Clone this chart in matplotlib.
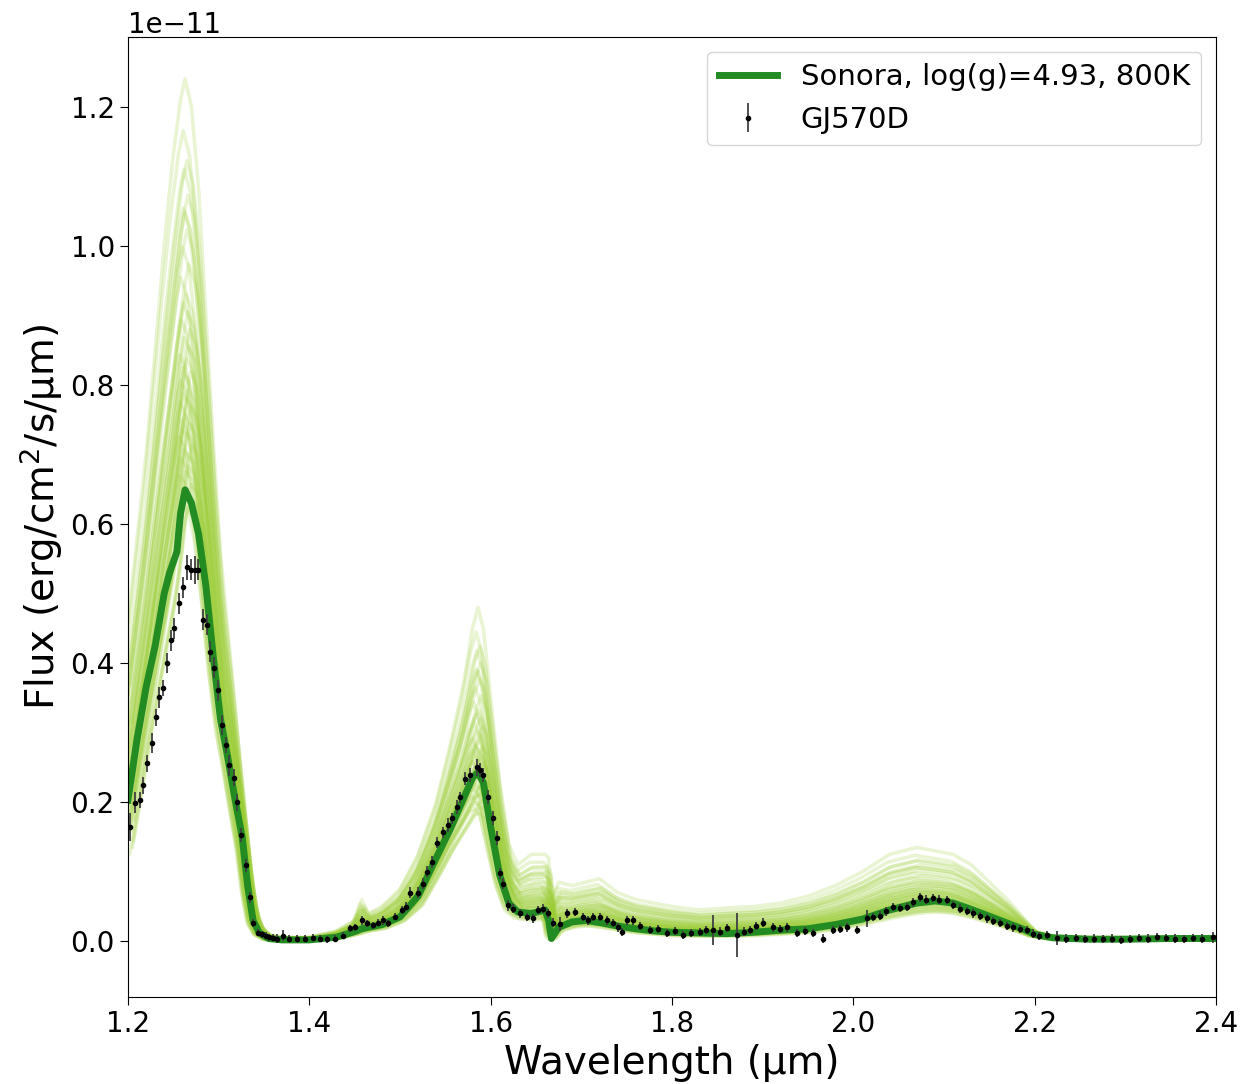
"""Sonora model fit to the GJ570D spectrum with posterior draws."""

import matplotlib

matplotlib.use('Agg')
import matplotlib.pyplot as plt
import numpy as np

# wavelength grid shared by the best-fit model and the draw envelopes (um)
model_wl = [1.200, 1.210, 1.220, 1.230, 1.240, 1.246, 1.250, 1.254, 1.258, 1.263,
            1.270, 1.278, 1.286, 1.294, 1.302, 1.310, 1.318, 1.326, 1.332, 1.338,
            1.345, 1.355, 1.370, 1.400, 1.430, 1.450, 1.458, 1.465, 1.480, 1.500,
            1.520, 1.540, 1.555, 1.570, 1.580, 1.586, 1.592, 1.600, 1.610, 1.620,
            1.630, 1.645, 1.660, 1.664, 1.667, 1.675, 1.690, 1.705, 1.720, 1.740,
            1.760, 1.780, 1.800, 1.830, 1.860, 1.890, 1.920, 1.950, 1.980, 2.010,
            2.040, 2.070, 2.090, 2.110, 2.130, 2.150, 2.170, 2.190, 2.200, 2.220,
            2.260, 2.300, 2.350, 2.400]
# best fit, units of 1e-11 erg/cm2/s/um
model_flux = [0.203, 0.290, 0.365, 0.425, 0.500, 0.530, 0.545, 0.560, 0.615, 0.649,
              0.630, 0.585, 0.510, 0.410, 0.320, 0.265, 0.205, 0.150, 0.080, 0.030,
              0.012, 0.004, 0.002, 0.002, 0.006, 0.014, 0.018, 0.020, 0.024, 0.035,
              0.065, 0.120, 0.160, 0.205, 0.235, 0.243, 0.228, 0.165, 0.095, 0.055,
              0.042, 0.040, 0.045, 0.030, 0.004, 0.020, 0.028, 0.030, 0.027, 0.022,
              0.018, 0.015, 0.013, 0.012, 0.011, 0.013, 0.016, 0.018, 0.024, 0.032,
              0.045, 0.055, 0.058, 0.055, 0.046, 0.036, 0.026, 0.016, 0.010, 0.005,
              0.003, 0.003, 0.004, 0.004]
# lowest and highest posterior draws
draw_lo = [0.125, 0.200, 0.280, 0.350, 0.420, 0.460, 0.490, 0.530, 0.580, 0.620,
           0.610, 0.560, 0.470, 0.370, 0.290, 0.235, 0.175, 0.120, 0.060, 0.022,
           0.008, 0.002, 0.001, 0.001, 0.004, 0.010, 0.012, 0.015, 0.018, 0.028,
           0.050, 0.095, 0.130, 0.160, 0.180, 0.185, 0.175, 0.130, 0.075, 0.042,
           0.032, 0.030, 0.032, 0.022, 0.002, 0.014, 0.020, 0.022, 0.020, 0.016,
           0.012, 0.010, 0.008, 0.007, 0.007, 0.008, 0.010, 0.012, 0.017, 0.024,
           0.033, 0.040, 0.042, 0.040, 0.034, 0.027, 0.019, 0.011, 0.007, 0.003,
           0.002, 0.002, 0.002, 0.002]
draw_hi = [0.460, 0.580, 0.700, 0.850, 1.000, 1.080, 1.130, 1.170, 1.210, 1.240,
           1.200, 1.080, 0.900, 0.720, 0.560, 0.450, 0.340, 0.220, 0.130, 0.060,
           0.025, 0.010, 0.006, 0.006, 0.015, 0.030, 0.060, 0.040, 0.050, 0.075,
           0.125, 0.200, 0.280, 0.370, 0.450, 0.480, 0.450, 0.350, 0.230, 0.140,
           0.110, 0.125, 0.125, 0.120, 0.060, 0.085, 0.080, 0.085, 0.090, 0.070,
           0.060, 0.055, 0.050, 0.045, 0.048, 0.050, 0.055, 0.065, 0.080, 0.100,
           0.125, 0.135, 0.130, 0.125, 0.110, 0.085, 0.060, 0.030, 0.015, 0.008,
           0.006, 0.006, 0.006, 0.007]
# where each draw sits between the two envelopes, and its small wavelength offset
draw_frac = [0.00, 0.02, 0.03, 0.05, 0.06, 0.08, 0.09, 0.10, 0.12, 0.13, 0.14, 0.15,
             0.17, 0.18, 0.19, 0.20, 0.21, 0.22, 0.24, 0.25, 0.26, 0.27, 0.28, 0.30,
             0.31, 0.32, 0.33, 0.35, 0.36, 0.38, 0.40, 0.42, 0.44, 0.46, 0.48, 0.50,
             0.54, 0.57, 0.61, 0.65, 0.69, 0.70, 0.73, 0.79, 0.81, 0.88, 1.00]
draw_shift = [0.002, -0.004, 0.005, -0.002, 0.006, -0.006, 0.001, 0.004, -0.005, 0.003,
              -0.001, 0.007, -0.007, 0.002, -0.003, 0.005, -0.004, 0.000, 0.006, -0.006,
              0.003, -0.002, 0.004, -0.005, 0.001, 0.006, -0.003, 0.002, -0.006, 0.004,
              -0.001, 0.005, -0.004, 0.003, -0.002, 0.001, -0.005, 0.004, -0.003, 0.002,
              0.000, -0.002, 0.003, -0.001, 0.002, -0.002, 0.000]

# observed spectrum
data_wl = [1.2022, 1.2077, 1.2132, 1.2165, 1.2210, 1.2265, 1.2309, 1.2342, 1.2386, 1.2430,
           1.2474, 1.2507, 1.2562, 1.2607, 1.2651, 1.2695, 1.2739, 1.2772, 1.2827, 1.2871,
           1.2904, 1.2949, 1.2993, 1.3037, 1.3081, 1.3114, 1.3169, 1.3202, 1.3246, 1.3301,
           1.3346, 1.3379, 1.3434, 1.3478, 1.3520, 1.3555, 1.3600, 1.3643, 1.3710, 1.3780,
           1.3864, 1.3952, 1.4040, 1.4118, 1.4200, 1.4283, 1.4371, 1.4448, 1.4504, 1.4581,
           1.4636, 1.4702, 1.4760, 1.4812, 1.4868, 1.4945, 1.5022, 1.5070, 1.5110, 1.5198,
           1.5254, 1.5298, 1.5353, 1.5408, 1.5474, 1.5529, 1.5573, 1.5629, 1.5662, 1.5717,
           1.5772, 1.5849, 1.5882, 1.5915, 1.5970, 1.6026, 1.6070, 1.6103, 1.6136, 1.6191,
           1.6246, 1.6323, 1.6401, 1.6467, 1.6522, 1.6577, 1.6632, 1.6687, 1.6764, 1.6842,
           1.6930, 1.7018, 1.7070, 1.7128, 1.7206, 1.7283, 1.7349, 1.7400, 1.7448, 1.7503,
           1.7570, 1.7650, 1.7757, 1.7850, 1.7945, 1.8030, 1.8121, 1.8210, 1.8309, 1.8380,
           1.8452, 1.8530, 1.8606, 1.8717, 1.8790, 1.8860, 1.8930, 1.9003, 1.9114, 1.9190,
           1.9268, 1.9378, 1.9470, 1.9555, 1.9665, 1.9775, 1.9850, 1.9930, 2.0040, 2.0150,
           2.0220, 2.0294, 2.0360, 2.0437, 2.0510, 2.0592, 2.0660, 2.0735, 2.0800, 2.0878,
           2.0950, 2.1033, 2.1100, 2.1176, 2.1250, 2.1319, 2.1400, 2.1474, 2.1540, 2.1617,
           2.1690, 2.1761, 2.1840, 2.1915, 2.1981, 2.2050, 2.2136, 2.2250, 2.2350, 2.2450,
           2.2550, 2.2650, 2.2750, 2.2850, 2.2950, 2.3050, 2.3150, 2.3250, 2.3350, 2.3450,
           2.3550, 2.3650, 2.3750, 2.3850, 2.3967]
data_flux = [0.164, 0.199, 0.203, 0.224, 0.256, 0.285, 0.322, 0.351, 0.364, 0.400,
             0.433, 0.450, 0.486, 0.509, 0.538, 0.534, 0.534, 0.534, 0.462, 0.455,
             0.416, 0.393, 0.361, 0.311, 0.282, 0.253, 0.235, 0.200, 0.153, 0.109,
             0.063, 0.026, 0.012, 0.010, 0.008, 0.006, 0.005, 0.004, 0.008, 0.004,
             0.004, 0.004, 0.005, 0.004, 0.003, 0.004, 0.008, 0.019, 0.020, 0.030,
             0.026, 0.023, 0.027, 0.030, 0.026, 0.035, 0.045, 0.050, 0.070, 0.070,
             0.083, 0.100, 0.114, 0.142, 0.157, 0.167, 0.177, 0.193, 0.207, 0.234,
             0.239, 0.250, 0.246, 0.239, 0.207, 0.177, 0.148, 0.098, 0.083, 0.052,
             0.047, 0.040, 0.035, 0.033, 0.045, 0.047, 0.040, 0.027, 0.025, 0.040,
             0.042, 0.035, 0.030, 0.035, 0.035, 0.030, 0.026, 0.020, 0.013, 0.030,
             0.030, 0.022, 0.016, 0.018, 0.012, 0.015, 0.009, 0.012, 0.013, 0.016,
             0.016, 0.014, 0.019, 0.009, 0.014, 0.016, 0.022, 0.027, 0.020, 0.018,
             0.020, 0.012, 0.015, 0.012, 0.004, 0.016, 0.018, 0.020, 0.016, 0.033,
             0.035, 0.037, 0.043, 0.049, 0.048, 0.049, 0.056, 0.063, 0.060, 0.062,
             0.060, 0.059, 0.052, 0.047, 0.044, 0.040, 0.036, 0.033, 0.029, 0.026,
             0.022, 0.020, 0.018, 0.016, 0.011, 0.008, 0.009, 0.005, 0.004, 0.005,
             0.003, 0.004, 0.003, 0.004, 0.002, 0.003, 0.005, 0.004, 0.006, 0.005,
             0.004, 0.003, 0.005, 0.004, 0.006]
data_err = [0.020, 0.015, 0.012, 0.012, 0.012, 0.015, 0.012, 0.015, 0.012, 0.015,
            0.015, 0.015, 0.015, 0.015, 0.018, 0.015, 0.020, 0.015, 0.015, 0.015,
            0.015, 0.015, 0.015, 0.015, 0.012, 0.015, 0.012, 0.012, 0.010, 0.010,
            0.008, 0.006, 0.005, 0.005, 0.005, 0.005, 0.005, 0.006, 0.008, 0.005,
            0.005, 0.005, 0.005, 0.005, 0.005, 0.005, 0.005, 0.005, 0.005, 0.006,
            0.005, 0.005, 0.005, 0.006, 0.005, 0.005, 0.006, 0.006, 0.008, 0.008,
            0.008, 0.008, 0.008, 0.008, 0.008, 0.010, 0.008, 0.010, 0.008, 0.010,
            0.010, 0.012, 0.010, 0.010, 0.010, 0.010, 0.010, 0.008, 0.008, 0.008,
            0.006, 0.006, 0.006, 0.006, 0.006, 0.006, 0.006, 0.006, 0.010, 0.006,
            0.006, 0.006, 0.006, 0.006, 0.006, 0.006, 0.006, 0.006, 0.006, 0.006,
            0.006, 0.006, 0.006, 0.006, 0.006, 0.006, 0.006, 0.006, 0.006, 0.006,
            0.022, 0.006, 0.006, 0.031, 0.006, 0.006, 0.006, 0.006, 0.006, 0.006,
            0.006, 0.006, 0.006, 0.006, 0.006, 0.006, 0.006, 0.006, 0.006, 0.012,
            0.006, 0.006, 0.006, 0.006, 0.006, 0.006, 0.006, 0.006, 0.006, 0.006,
            0.006, 0.006, 0.006, 0.006, 0.006, 0.006, 0.006, 0.006, 0.006, 0.006,
            0.006, 0.006, 0.006, 0.006, 0.006, 0.006, 0.006, 0.010, 0.006, 0.006,
            0.006, 0.006, 0.006, 0.006, 0.006, 0.006, 0.006, 0.006, 0.006, 0.006,
            0.006, 0.006, 0.006, 0.006, 0.008]

SCALE = 1e-11


def main() -> None:
    wl = np.array(model_wl)
    lo = np.array(draw_lo) * SCALE
    hi = np.array(draw_hi) * SCALE

    fig = plt.figure(figsize=(12.41, 10.84), dpi=100)
    ax = fig.add_axes([0.1031, 0.0803, 0.8768, 0.8856])

    for f, dw in zip(draw_frac, draw_shift):
        ax.plot(wl + dw, lo + f * (hi - lo), color='yellowgreen', lw=2.5, alpha=0.22)

    ax.plot(wl, np.array(model_flux) * SCALE, color='forestgreen', lw=5,
            label='Sonora, log(g)=4.93, 800K')
    ax.errorbar(data_wl, np.array(data_flux) * SCALE, yerr=np.array(data_err) * SCALE,
                fmt='.', color='k', ms=6, ecolor='0.25', elinewidth=1.3,
                label='GJ570D', zorder=5)

    ax.set_xlim(1.2, 2.4)
    ax.set_ylim(-0.08 * SCALE, 1.30 * SCALE)
    ax.set_xticks([1.2, 1.4, 1.6, 1.8, 2.0, 2.2, 2.4])
    ax.set_yticks(np.array([0.0, 0.2, 0.4, 0.6, 0.8, 1.0, 1.2]) * SCALE)
    ax.tick_params(labelsize=20, length=6)
    ax.yaxis.get_offset_text().set_fontsize(20)
    ax.set_xlabel('Wavelength (µm)', fontsize=28)
    ax.set_ylabel('Flux (erg/cm$^2$/s/µm)', fontsize=28)
    ax.legend(loc='upper right', fontsize=21)

    fig.savefig('out.png', dpi=100)


if __name__ == '__main__':
    main()
